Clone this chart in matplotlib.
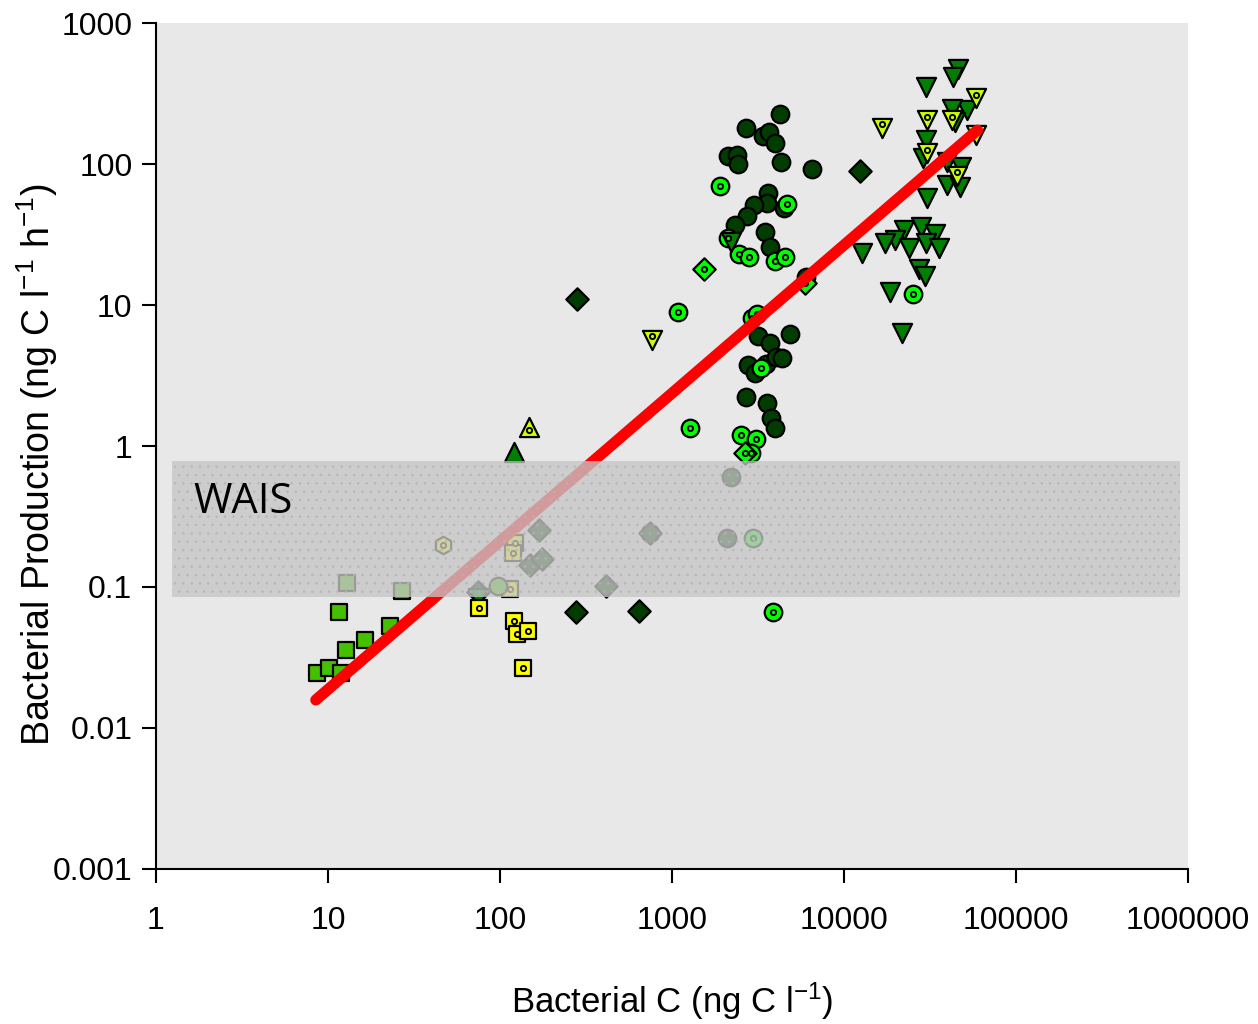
import matplotlib
matplotlib.use("Agg")
import matplotlib.pyplot as plt
from matplotlib.patches import Rectangle
import numpy as np

plt.rcParams['font.family'] = ['Liberation Sans', 'DejaVu Sans']
plt.rcParams['mathtext.fontset'] = 'custom'
plt.rcParams['mathtext.rm'] = 'Liberation Sans'
plt.rcParams['mathtext.it'] = 'Liberation Sans'
plt.rcParams['hatch.color'] = '#b4b4b4'
plt.rcParams['hatch.linewidth'] = 0.6

# dark green circles
dc_x = [4285, 2718, 3396, 3680, 4009, 2125, 2398, 2428, 4303, 6577, 3631, 3581, 2998,
        2741, 2324, 3472, 3749, 4498, 6012, 3175, 3714, 4853, 2778, 3039, 3553, 4060,
        4403, 2693, 3581, 3800, 4009, 2223, 2108, 752]
dc_y = [226, 181, 158, 169, 140, 114, 116, 100, 103, 92.2, 62, 53.2, 51.2,
        42.8, 36.9, 33.1, 25.9, 48.5, 15.9, 6.03, 5.35, 6.23, 3.75, 3.28, 3.82, 4.30,
        4.23, 2.21, 2.01, 1.57, 1.34, 0.600, 0.221, 0.240]

# bright green circles with centre dot
bc_x = [1901, 4680, 2125, 2462, 2803, 3969, 4539, 1084, 2945, 3150, 3321, 1284,
        2542, 3106, 2906, 3865, 25200, 2970]
bc_y = [69.8, 51.8, 29.7, 23.0, 21.8, 20.6, 21.8, 8.92, 8.13, 8.63, 3.56, 1.34,
        1.20, 1.12, 0.888, 0.0665, 12.0, 0.221]

# bright green diamonds with centre dot
bd_x = [1541, 5986, 2656]
bd_y = [17.9, 14.3, 0.888]

# dark green diamonds
dd_x = [280, 12390, 277, 645, 169, 149, 176, 417, 74.8, 752]
dd_y = [11.0, 89.6, 0.0665, 0.0679, 0.254, 0.143, 0.157, 0.102, 0.0922, 0.240]

# green down triangles
gt_x = [74.8, 2223, 46200, 43200, 29980, 52400, 42850, 44200, 29980, 28900, 39900,
        48300, 40100, 47200, 30500, 28040, 22330, 33800, 19800, 17300, 29980, 35800,
        23970, 27300, 29580, 12850, 18670, 21830]
gt_y = [0.0836, 28.1, 470, 416, 353, 242, 244, 200, 148, 110, 104,
        95.7, 71.0, 69.0, 57.1, 35.9, 34.0, 31.9, 28.9, 27.4, 27.4, 25.2,
        25.2, 17.9, 16.1, 23.3, 12.4, 6.30]

# yellow-green down triangles with centre dot
yt_x = [768, 16700, 59100, 30500, 42600, 30680, 45800, 59100]
yt_y = [5.65, 181, 292, 205, 205, 119, 82.2, 161]

# up triangles
gu_x, gu_y = [121], [0.906]
yu_x, yu_y = [147.5], [1.37]

# green squares
gs_x = [8.63, 10.1, 11.9, 12.7, 16.4, 11.6, 22.9, 12.9, 26.9]
gs_y = [0.0245, 0.0267, 0.0245, 0.0357, 0.0421, 0.0665, 0.0529, 0.107, 0.0937]

# yellow squares with centre dot
ys_x = [75.5, 121, 126, 145, 137, 123, 120, 115]
ys_y = [0.0706, 0.0574, 0.0462, 0.0488, 0.0265, 0.206, 0.173, 0.0968]

# light green circle and yellow hexagon inside WAIS band
lc_x, lc_y = [97.8], [0.102]
yh_x, yh_y = [46.8], [0.199]

# regression line end points
fit_x = [8.5, 60000]
fit_y = [0.0158, 174]

# WAIS band
wais_x = [1.24, 898000]
wais_y = [0.0849, 0.783]

fig = plt.figure(figsize=(12.58, 10.24), dpi=100)
ax = fig.add_axes([0.124, 0.1514, 0.820, 0.8261])
ax.set_facecolor('#e8e8e8')
ax.set_xscale('log')
ax.set_yscale('log')
ax.set_xlim(1, 1e6)
ax.set_ylim(0.001, 1000)

ek = dict(edgecolors='black', linewidths=1.6, zorder=3)


def dots(x, y, c):
    ax.scatter(x, y, s=14, marker='o', c=c, edgecolors='black', linewidths=1.4, zorder=4)


ax.scatter(dc_x, dc_y, s=160, marker='o', c='#013d01', **ek)
ax.scatter(bc_x, bc_y, s=160, marker='o', c='#00ff00', **ek)
dots(bc_x, bc_y, '#00ff00')
ax.scatter(dd_x, dd_y, s=130, marker='D', c='#013d01', **ek)
ax.scatter(bd_x, bd_y, s=130, marker='D', c='#00ff00', **ek)
dots(bd_x, bd_y, '#00ff00')
ax.scatter(gt_x, gt_y, s=190, marker='v', c='#007f00', **ek)
ax.scatter(yt_x, yt_y, s=190, marker='v', c='#ccff00', **ek)
dots(np.array(yt_x), np.array(yt_y) * 1.06, '#ccff00')
ax.scatter(gu_x, gu_y, s=190, marker='^', c='#007f00', **ek)
ax.scatter(yu_x, yu_y, s=190, marker='^', c='#ccff00', **ek)
dots(yu_x, np.array(yu_y) / 1.06, '#ccff00')
ax.scatter(gs_x, gs_y, s=140, marker='s', c='#44c000', **ek)
ax.scatter(ys_x, ys_y, s=140, marker='s', c='#ffff00', **ek)
dots(ys_x, ys_y, '#ffff00')
ax.scatter(lc_x, lc_y, s=160, marker='o', c='#44c000', **ek)
ax.scatter(yh_x, yh_y, s=160, marker='h', c='#ffff00', **ek)
dots(yh_x, yh_y, '#ffff00')

ax.plot(fit_x, fit_y, color='red', lw=8, solid_capstyle='round', zorder=5)

band = Rectangle((wais_x[0], wais_y[0]), wais_x[1] - wais_x[0], wais_y[1] - wais_y[0],
                 facecolor='#c6c6c6', alpha=0.78, edgecolor='#b4b4b4', lw=0,
                 hatch='..', zorder=6)
ax.add_patch(band)
ax.text(1.64, 0.40, 'WAIS', fontsize=30, family=['Open Sans', 'DejaVu Sans'],
        va='center', ha='left', zorder=7)

for s in ['top', 'right']:
    ax.spines[s].set_visible(False)
for s in ['left', 'bottom']:
    ax.spines[s].set_linewidth(1.5)

ax.set_xticks([1, 10, 100, 1000, 1e4, 1e5, 1e6])
ax.set_xticklabels(['1', '10', '100', '1000', '10000', '100000', '1000000'])
ax.set_yticks([0.001, 0.01, 0.1, 1, 10, 100, 1000])
ax.set_yticklabels(['0.001', '0.01', '0.1', '1', '10', '100', '1000'])
ax.minorticks_off()
ax.tick_params(axis='both', direction='out', length=10, width=1.5, labelsize=23)
ax.tick_params(axis='x', pad=17)
ax.tick_params(axis='y', pad=7)

ax.set_xlabel('Bacterial C (ng C l$^{-1}$)', fontsize=25)
ax.set_ylabel('Bacterial Production (ng C l$^{-1}$ h$^{-1}$)', fontsize=27)
ax.xaxis.set_label_coords(0.5, -0.132)
ax.yaxis.set_label_coords(-0.093, 0.478)

fig.savefig('out.png', dpi=100)
